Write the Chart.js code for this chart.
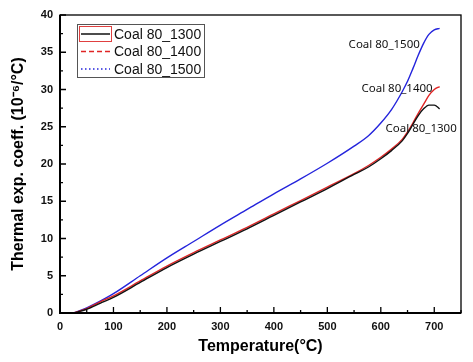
<!DOCTYPE html>
<html>
<head>
<meta charset="utf-8">
<script src="https://cdn.jsdelivr.net/npm/chart.js@4.4.1/dist/chart.umd.min.js"></script>
<style>
  html, body { margin: 0; padding: 0; background: #fff; }
  #wrap { width: 473px; height: 362px; }
</style>
</head>
<body>
<div id="wrap"><canvas id="grafik"></canvas></div>
<script>
// data
const suhu = [25, 50, 75, 100, 150, 200, 250, 300, 350, 400, 450, 500, 550, 577, 600, 620, 640, 650, 660, 670, 680, 690, 700, 710];
const coal1300 = [0, 0.5, 1.3, 2.1, 4.1, 6.1, 7.9, 9.6, 11.3, 13.1, 14.9, 16.7, 18.6, 19.6, 20.7, 21.8, 23.1, 24.1, 25.3, 26.5, 27.4, 27.9, 27.9, 27.4];
const coal1400 = [0, 0.6, 1.5, 2.3, 4.3, 6.3, 8.1, 9.8, 11.5, 13.3, 15.1, 16.9, 18.7, 19.8, 20.9, 22.0, 23.3, 24.3, 25.5, 26.8, 28.0, 29.2, 30.0, 30.4];
const coal1500 = [0, 0.7, 1.6, 2.6, 5.0, 7.4, 9.6, 11.8, 13.9, 16.0, 18.0, 20.1, 22.4, 23.8, 25.5, 27.3, 29.7, 31.1, 32.8, 34.6, 36.2, 37.4, 38.0, 38.2];
const namaSeri = ["Coal 80_1300", "Coal 80_1400", "Coal 80_1500"];
const tickX = [0, 100, 200, 300, 400, 500, 600, 700];
const tickY = [0, 5, 10, 15, 20, 25, 30, 35, 40];

const warna = ["#111111", "#e02424", "#2424dc"];
const dashLegenda = [[], [5, 3], [1.5, 2.5]];

// label teks di ujung kurva (koordinat data)
const labelKurva = [
    { teks: namaSeri[2], x: 673, y: 36.0, align: "right" },
    { teks: namaSeri[1], x: 697, y: 30.1, align: "right" },
    { teks: namaSeri[0], x: 742, y: 24.8, align: "right" },
];

const buatSeri = (nilai) => suhu.map((t, i) => ({ x: t, y: nilai[i] }));

const pluginBingkai = {
    id: "bingkai",
    afterDraw(chart) {
        const { ctx, chartArea: a, scales } = chart;
        ctx.save();
        ctx.strokeStyle = "#000";
        ctx.lineWidth = 1.3;
        ctx.strokeRect(a.left, a.top, a.right - a.left, a.bottom - a.top);
        ctx.lineWidth = 2;
        ctx.beginPath();
        ctx.moveTo(a.left, a.top);
        ctx.lineTo(a.left, a.bottom);
        ctx.lineTo(a.right, a.bottom);
        ctx.stroke();

        ctx.lineWidth = 1.3;
        ctx.beginPath();
        for (let v = 0; v <= 750; v += 50) {
            const px = scales.x.getPixelForValue(v);
            const len = v % 100 === 0 ? 6 : 3;
            ctx.moveTo(px, a.bottom);
            ctx.lineTo(px, a.bottom - len);
        }
        for (let v = 0; v <= 40; v += 2.5) {
            const py = scales.y.getPixelForValue(v);
            const len = v % 5 === 0 ? 6 : 3;
            ctx.moveTo(a.left, py);
            ctx.lineTo(a.left + len, py);
        }
        ctx.stroke();

        // label kurva
        ctx.fillStyle = "#111";
        ctx.font = "11.5px 'Noto Sans', sans-serif";
        ctx.textBaseline = "middle";
        labelKurva.forEach((l) => {
            ctx.textAlign = l.align;
            ctx.fillText(l.teks, scales.x.getPixelForValue(l.x), scales.y.getPixelForValue(l.y));
        });

        // legenda
        const lx = 77, ly = 24, lw = 127, lh = 53;
        ctx.fillStyle = "#fff";
        ctx.fillRect(lx, ly, lw, lh);
        ctx.strokeStyle = "#555";
        ctx.lineWidth = 1;
        ctx.strokeRect(lx + 0.5, ly + 0.5, lw, lh);
        ctx.font = "14px 'Liberation Sans', Arial, sans-serif";
        ctx.textAlign = "left";
        chart.data.datasets.forEach((ds, i) => {
            const y = ly + 10 + i * 17.5;
            ctx.strokeStyle = ds.borderColor;
            ctx.lineWidth = 1.5;
            ctx.setLineDash(dashLegenda[i]);
            ctx.beginPath();
            ctx.moveTo(lx + 4, y);
            ctx.lineTo(lx + 33, y);
            ctx.stroke();
            ctx.setLineDash([]);
            ctx.fillStyle = "#111";
            ctx.fillText(ds.label, lx + 37, y + 1);
        });
        ctx.strokeStyle = "#e04040";
        ctx.lineWidth = 1;
        ctx.strokeRect(lx + 2.5, ly + 2.5, 32, 15);
        ctx.restore();
    },
};

new Chart(document.getElementById("grafik"), {
    type: "line",
    data: {
        datasets: [coal1300, coal1400, coal1500].map((nilai, i) => ({
            label: namaSeri[i],
            data: buatSeri(nilai),
            borderColor: warna[i],
            backgroundColor: warna[i],
            borderWidth: 1.4,
            pointRadius: 0,
            cubicInterpolationMode: "monotone",
            fill: false,
        })),
    },
    options: {
        responsive: true,
        maintainAspectRatio: false,
        animation: false,
        layout: { padding: { top: 15, right: 12, left: 0, bottom: 0 } },
        plugins: {
            legend: { display: false },
            tooltip: { enabled: false },
        },
        scales: {
            x: {
                type: "linear",
                min: 0,
                max: 750,
                afterFit: (s) => { s.height = 49; },
                afterBuildTicks: (s) => { s.ticks = tickX.map((v) => ({ value: v })); },
                grid: { display: false, drawTicks: false },
                border: { display: false },
                ticks: {
                    padding: 7,
                    color: "#111",
                    maxRotation: 0,
                    font: { family: "'Liberation Sans', Arial, sans-serif", size: 11, weight: "bold" },
                },
                title: {
                    display: true,
                    text: "Temperature(°C)",
                    color: "#000",
                    padding: { top: 0, bottom: 6 },
                    font: { family: "'Liberation Sans', Arial, sans-serif", size: 16, weight: "bold" },
                },
            },
            y: {
                type: "linear",
                min: 0,
                max: 40,
                afterFit: (s) => { s.width = 60; },
                afterBuildTicks: (s) => { s.ticks = tickY.map((v) => ({ value: v })); },
                grid: { display: false, drawTicks: false },
                border: { display: false },
                ticks: {
                    padding: 7,
                    color: "#111",
                    font: { family: "'Liberation Sans', Arial, sans-serif", size: 11, weight: "bold" },
                },
                title: {
                    display: true,
                    text: "Thermal exp. coeff. (10⁻⁶/°C)",
                    color: "#000",
                    padding: { top: 9, bottom: 0 },
                    font: { family: "'Liberation Sans', Arial, sans-serif", size: 16, weight: "bold" },
                },
            },
        },
    },
    plugins: [pluginBingkai],
});
</script>
</body>
</html>
